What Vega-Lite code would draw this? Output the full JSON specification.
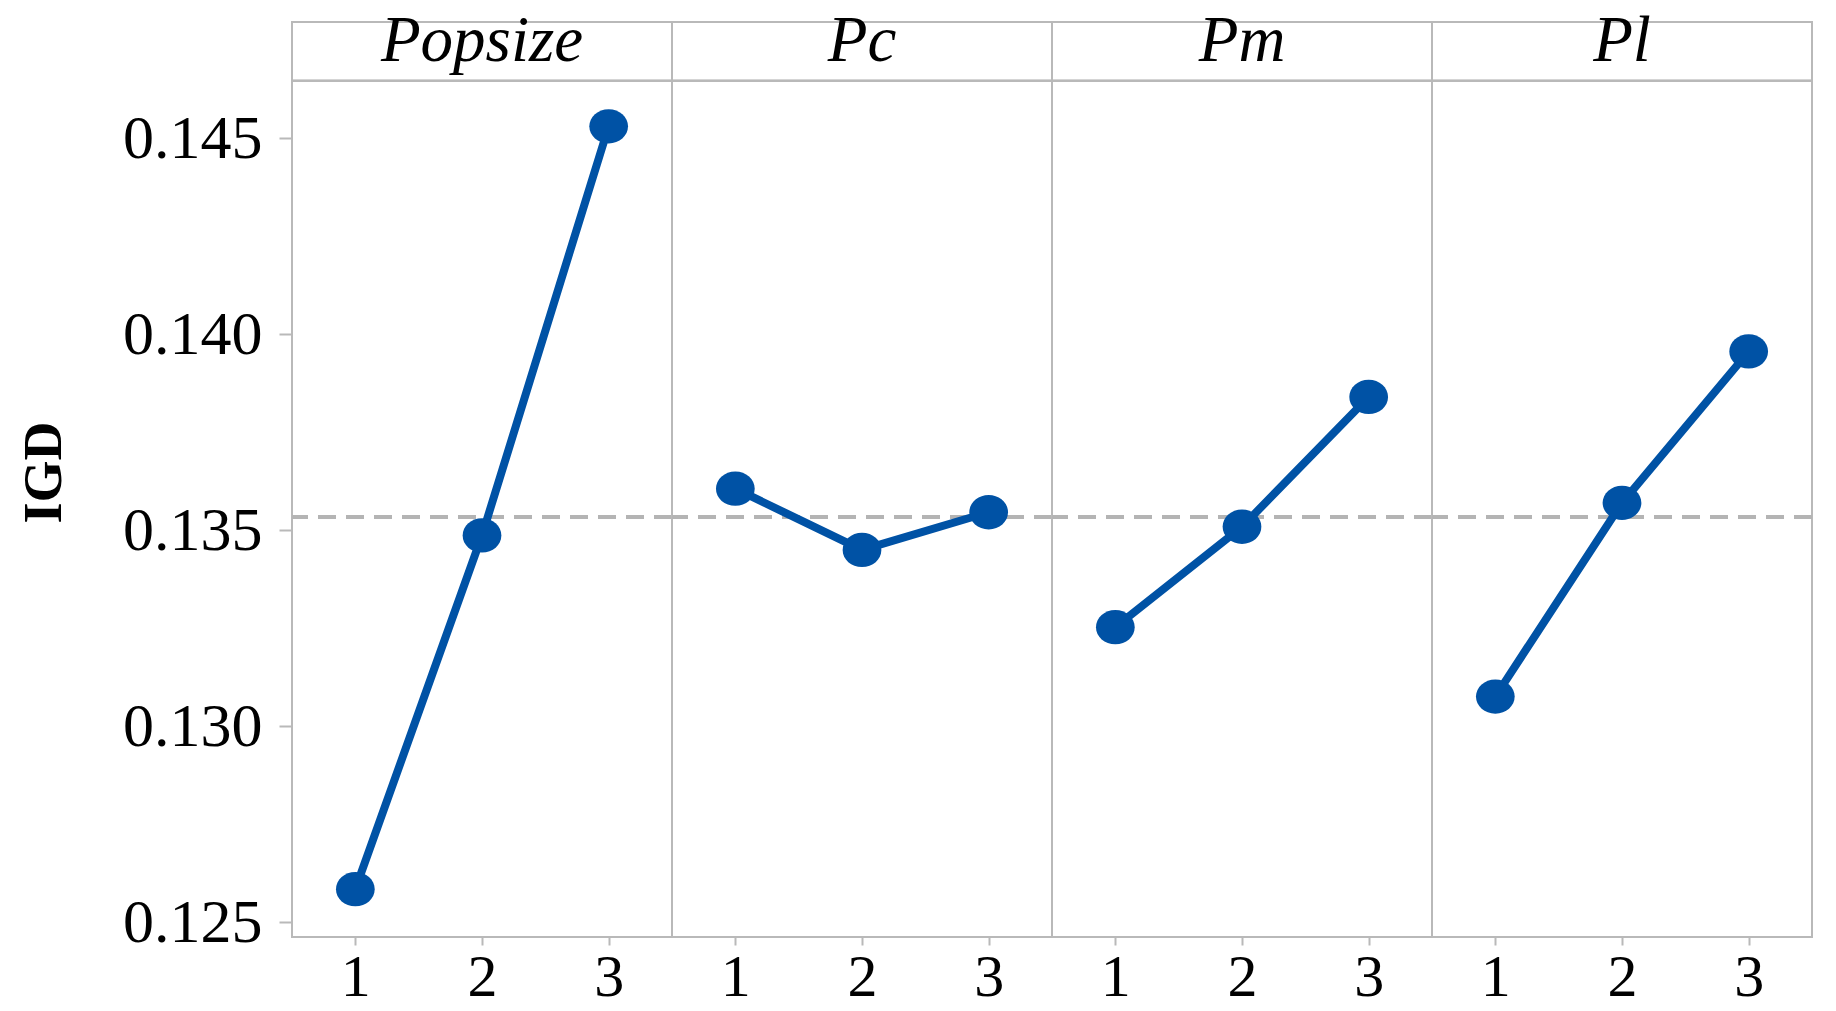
{
  "$schema": "https://vega.github.io/schema/vega-lite/v6.json",
  "background": "white",
  "padding": {"left": 17, "top": 7, "right": 5, "bottom": 5},
  "data": {
    "values": [
      {"factor": "Popsize", "level": 1, "value": 0.12585},
      {"factor": "Popsize", "level": 2, "value": 0.13487},
      {"factor": "Popsize", "level": 3, "value": 0.14530},
      {"factor": "Pc", "level": 1, "value": 0.13606},
      {"factor": "Pc", "level": 2, "value": 0.13450},
      {"factor": "Pc", "level": 3, "value": 0.13546},
      {"factor": "Pm", "level": 1, "value": 0.13253},
      {"factor": "Pm", "level": 2, "value": 0.13509},
      {"factor": "Pm", "level": 3, "value": 0.13840},
      {"factor": "Pl", "level": 1, "value": 0.13076},
      {"factor": "Pl", "level": 2, "value": 0.13570},
      {"factor": "Pl", "level": 3, "value": 0.13956}
    ]
  },
  "facet": {
    "column": {
      "field": "factor",
      "sort": ["Popsize", "Pc", "Pm", "Pl"],
      "header": {"labels": false, "title": null}
    }
  },
  "spacing": 0,
  "bounds": "flush",
  "spec": {
    "width": 380,
    "height": 915,
    "encoding": {
      "x": {
        "field": "level",
        "type": "quantitative",
        "scale": {"domain": [0.5, 3.5], "nice": false, "zero": false},
        "axis": {
          "values": [1, 2, 3],
          "format": "d",
          "title": null,
          "domain": false,
          "grid": false,
          "tickSize": 8,
          "tickColor": "#B9B9B9",
          "tickWidth": 2,
          "labelPadding": 3,
          "labelFont": "Liberation Serif",
          "labelFontSize": 60,
          "labelColor": "black"
        }
      },
      "y": {
        "field": "value",
        "type": "quantitative",
        "scale": {"domain": [0.12463, 0.14796], "nice": false, "zero": false},
        "axis": {
          "values": [0.125, 0.13, 0.135, 0.14, 0.145],
          "format": ".3f",
          "title": "IGD",
          "titleFont": "Liberation Serif",
          "titleFontSize": 54,
          "titleFontWeight": "bold",
          "titleColor": "black",
          "titlePadding": 51,
          "titleY": 450,
          "domain": false,
          "grid": false,
          "tickSize": 13,
          "tickColor": "#B9B9B9",
          "tickWidth": 2,
          "labelPadding": 17,
          "labelFont": "Liberation Serif",
          "labelFontSize": 62,
          "labelColor": "black"
        }
      }
    },
    "layer": [
      {
        "mark": {"type": "rule", "stroke": "#B4B4B4", "strokeWidth": 4, "strokeDash": [18, 10]},
        "encoding": {
          "x": null,
          "y": {"aggregate": "mean", "field": "value", "type": "quantitative"}
        }
      },
      {
        "mark": {"type": "rule", "stroke": "#B9B9B9", "strokeWidth": 2},
        "encoding": {
          "x": null,
          "y": {"datum": 0.14646}
        }
      },
      {
        "transform": [{"filter": {"field": "level", "equal": 2}}],
        "mark": {"type": "text", "font": "Liberation Serif", "fontStyle": "italic", "fontSize": 65, "baseline": "alphabetic", "align": "center", "color": "black"},
        "encoding": {
          "x": {"datum": 2},
          "y": {"datum": 0.14697},
          "text": {"field": "factor"}
        }
      },
      {
        "mark": {"type": "line", "color": "#0052A5", "strokeWidth": 8},
        "encoding": {}
      },
      {
        "mark": {"type": "point", "filled": true, "opacity": 1, "color": "#0052A5", "size": 1500, "shape": "M-1,0A1,0.886 0 1,0 1,0A1,0.886 0 1,0 -1,0Z"},
        "encoding": {}
      }
    ]
  },
  "config": {
    "view": {"stroke": "#B9B9B9", "strokeWidth": 2}
  }
}
